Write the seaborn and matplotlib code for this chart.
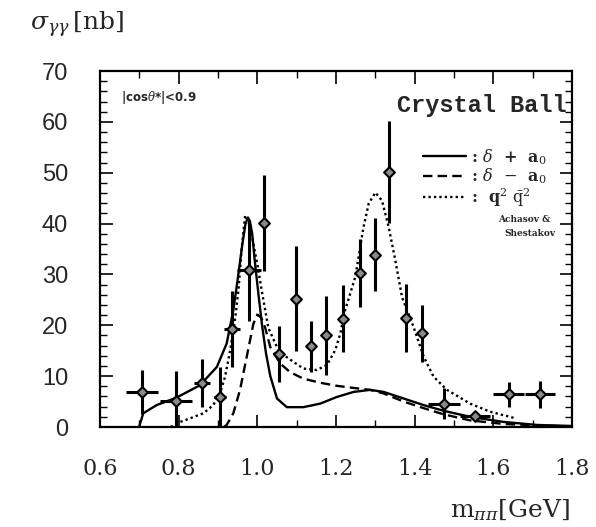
import numpy as np
import pandas as pd
import matplotlib
matplotlib.use("Agg")
import matplotlib.pyplot as plt
from matplotlib.ticker import MultipleLocator
import seaborn as sns

# ---- data ----
mass = [0.706, 0.793, 0.859, 0.905, 0.935, 0.979, 1.017, 1.055, 1.099, 1.137, 1.174,
        1.218, 1.260, 1.300, 1.336, 1.379, 1.418, 1.475, 1.554, 1.639, 1.718]
sigma = [6.9, 5.1, 8.6, 5.9, 19.2, 30.8, 40.1, 14.4, 25.2, 15.9, 18.0,
         21.3, 30.3, 33.9, 50.1, 21.5, 18.4, 4.6, 2.2, 6.4, 6.4]
sigma_err = [4.3, 6.0, 4.7, 5.9, 7.5, 10.0, 9.5, 5.5, 10.3, 5.0, 7.7,
             6.6, 6.7, 7.2, 10.0, 6.7, 5.6, 3.0, 1.0, 2.5, 2.7]
mass_err = [0.041, 0.040, 0.021, 0.015, 0.021, 0.030, 0.010, 0.012, 0.010, 0.010, 0.010,
            0.010, 0.010, 0.010, 0.010, 0.010, 0.010, 0.040, 0.038, 0.040, 0.038]

solid_x = [0.700, 0.702, 0.710, 0.744, 0.795, 0.854, 0.897, 0.922, 0.939, 0.950, 0.962,
           0.970, 0.976, 0.981, 0.987, 0.993, 1.003, 1.012, 1.022, 1.033, 1.050, 1.075,
           1.117, 1.160, 1.202, 1.245, 1.287, 1.321, 1.372, 1.423, 1.473, 1.541, 1.626,
           1.711, 1.800]
solid_y = [0.0, 0.7, 2.7, 4.3, 5.8, 8.2, 11.8, 16.4, 23.0, 29.0, 36.0,
           40.0, 41.2, 40.5, 38.0, 33.0, 26.0, 20.0, 14.5, 10.0, 5.6, 3.9,
           3.9, 4.6, 5.9, 6.9, 7.3, 6.9, 5.6, 4.3, 3.2, 2.0, 1.0,
           0.4, 0.2]

dashed_x = [0.915, 0.922, 0.939, 0.956, 0.973, 0.990, 1.000, 1.010, 1.020, 1.033, 1.058,
            1.083, 1.117, 1.160, 1.202, 1.253, 1.287, 1.321, 1.372, 1.423, 1.473, 1.541,
            1.626, 1.711, 1.800]
dashed_y = [0.0, 0.4, 2.7, 7.3, 13.8, 20.3, 22.1, 21.5, 19.5, 15.7, 12.5,
            10.8, 9.5, 8.7, 8.1, 7.6, 7.3, 6.6, 5.0, 3.7, 2.5, 1.3,
            0.6, 0.3, 0.1]

dotted_x = [0.780, 0.804, 0.829, 0.863, 0.888, 0.905, 0.918, 0.931, 0.944, 0.952, 0.960,
            0.969, 0.977, 0.985, 1.000, 1.011, 1.028, 1.050, 1.070, 1.092, 1.117, 1.151,
            1.177, 1.198, 1.211, 1.223, 1.249, 1.270, 1.283, 1.300, 1.317, 1.334, 1.351,
            1.368, 1.397, 1.423, 1.448, 1.482, 1.541, 1.592, 1.652]
dotted_y = [0.0, 1.0, 1.7, 2.7, 4.3, 6.6, 9.9, 15.1, 21.6, 26.9, 35.0,
            41.6, 40.5, 38.0, 32.0, 26.9, 19.5, 15.7, 14.0, 12.8, 11.5, 11.2,
            12.2, 15.1, 18.4, 22.9, 29.5, 39.3, 43.9, 46.1, 44.5, 39.3, 32.7,
            25.5, 19.7, 13.8, 9.9, 7.3, 4.6, 3.0, 1.8]

x_ticks = [0.6, 0.8, 1.0, 1.2, 1.4, 1.6, 1.8]
x_ticklabels = ["0.6", "0.8", "1.0", "1.2", "1.4", "1.6", "1.8"]
y_ticks = [0, 10, 20, 30, 40, 50, 60, 70]
y_ticklabels = ["0", "10", "20", "30", "40", "50", "60", "70"]

# ---- figure ----
sns.set_style("ticks")
plt.rcParams["font.family"] = ["DejaVu Serif", "DejaVu Sans"]
plt.rcParams["mathtext.fontset"] = "dejavuserif"

fig = plt.figure(figsize=(5.96, 5.27), dpi=100)
ax = fig.add_axes([100 / 596, 1 - 427 / 527, 472 / 596, 356 / 527])

k = "black"
curves = pd.DataFrame({"x": solid_x, "y": solid_y})
sns.lineplot(data=curves, x="x", y="y", ax=ax, color=k, lw=1.7, sort=False,
             label=r": $\delta$  +  a$_0$")
curves = pd.DataFrame({"x": dashed_x, "y": dashed_y})
sns.lineplot(data=curves, x="x", y="y", ax=ax, color=k, lw=1.7, sort=False,
             linestyle=(0, (4, 2.2)), label=r": $\delta$  $-$  a$_0$")
curves = pd.DataFrame({"x": dotted_x, "y": dotted_y})
sns.lineplot(data=curves, x="x", y="y", ax=ax, color=k, lw=1.7, sort=False,
             linestyle=(0, (1, 1.3)), label=r":  q$^2$ $\bar{\rm q}^2$")

ax.errorbar(mass, sigma, yerr=sigma_err, xerr=mass_err, fmt="none",
            ecolor=k, elinewidth=2.2, capsize=0)
pts = pd.DataFrame({"m": mass, "s": sigma})
sns.scatterplot(data=pts, x="m", y="s", ax=ax, marker="D", s=30,
                color="#8a8a8a", edgecolor=k, linewidth=1.5, zorder=5)

ax.set_xlim(0.6, 1.8)
ax.set_ylim(0, 70)
ax.set_xticks(x_ticks)
ax.set_xticklabels(x_ticklabels)
ax.set_yticks(y_ticks)
ax.set_yticklabels(y_ticklabels, family=["Liberation Sans", "DejaVu Sans"], fontsize=17)
ax.xaxis.set_minor_locator(MultipleLocator(0.1))
ax.yaxis.set_minor_locator(MultipleLocator(2))
ax.tick_params(axis="both", which="both", direction="in", top=True, right=True,
               color=k)
ax.tick_params(axis="both", which="major", length=9, width=1.2)
ax.tick_params(axis="x", which="major", labelsize=16, pad=22)
ax.tick_params(axis="both", which="minor", length=5, width=1.0)
ax.tick_params(axis="y", which="major", pad=23)
for sp in ax.spines.values():
    sp.set_linewidth(1.6)
    sp.set_color(k)
ax.set_xlabel("")
ax.set_ylabel("")

leg = ax.legend(loc="upper left", bbox_to_anchor=(0.66, 0.818), frameon=False,
                handlelength=2.7, handletextpad=0.3, labelspacing=0.0,
                borderaxespad=0.3, prop={"size": 11.5, "weight": "bold"})

ax.text(0.045, 0.925, r"|cos$\theta$*|<0.9", transform=ax.transAxes,
        fontsize=8.5, fontweight="bold", family=["DejaVu Sans"], va="center", ha="left")
ax.text(0.988, 0.902, "Crystal Ball", transform=ax.transAxes,
        fontsize=17, fontweight="bold", family=["Liberation Mono", "DejaVu Sans Mono"],
        va="center", ha="right")
ax.text(0.955, 0.583, "Achasov &", transform=ax.transAxes,
        fontsize=6.5, fontweight="bold", va="center", ha="right")
ax.text(0.965, 0.543, "Shestakov", transform=ax.transAxes,
        fontsize=6.5, fontweight="bold", va="center", ha="right")

fig.text(30 / 596, 1 - 25 / 527, r"$\sigma_{\gamma\gamma}\,$[nb]", fontsize=18,
         va="center", ha="left")
fig.text(570 / 596, 1 - 510 / 527, r"m$_{\pi\pi}$[GeV]", fontsize=18,
         va="center", ha="right")

fig.savefig("out.png", dpi=100)
